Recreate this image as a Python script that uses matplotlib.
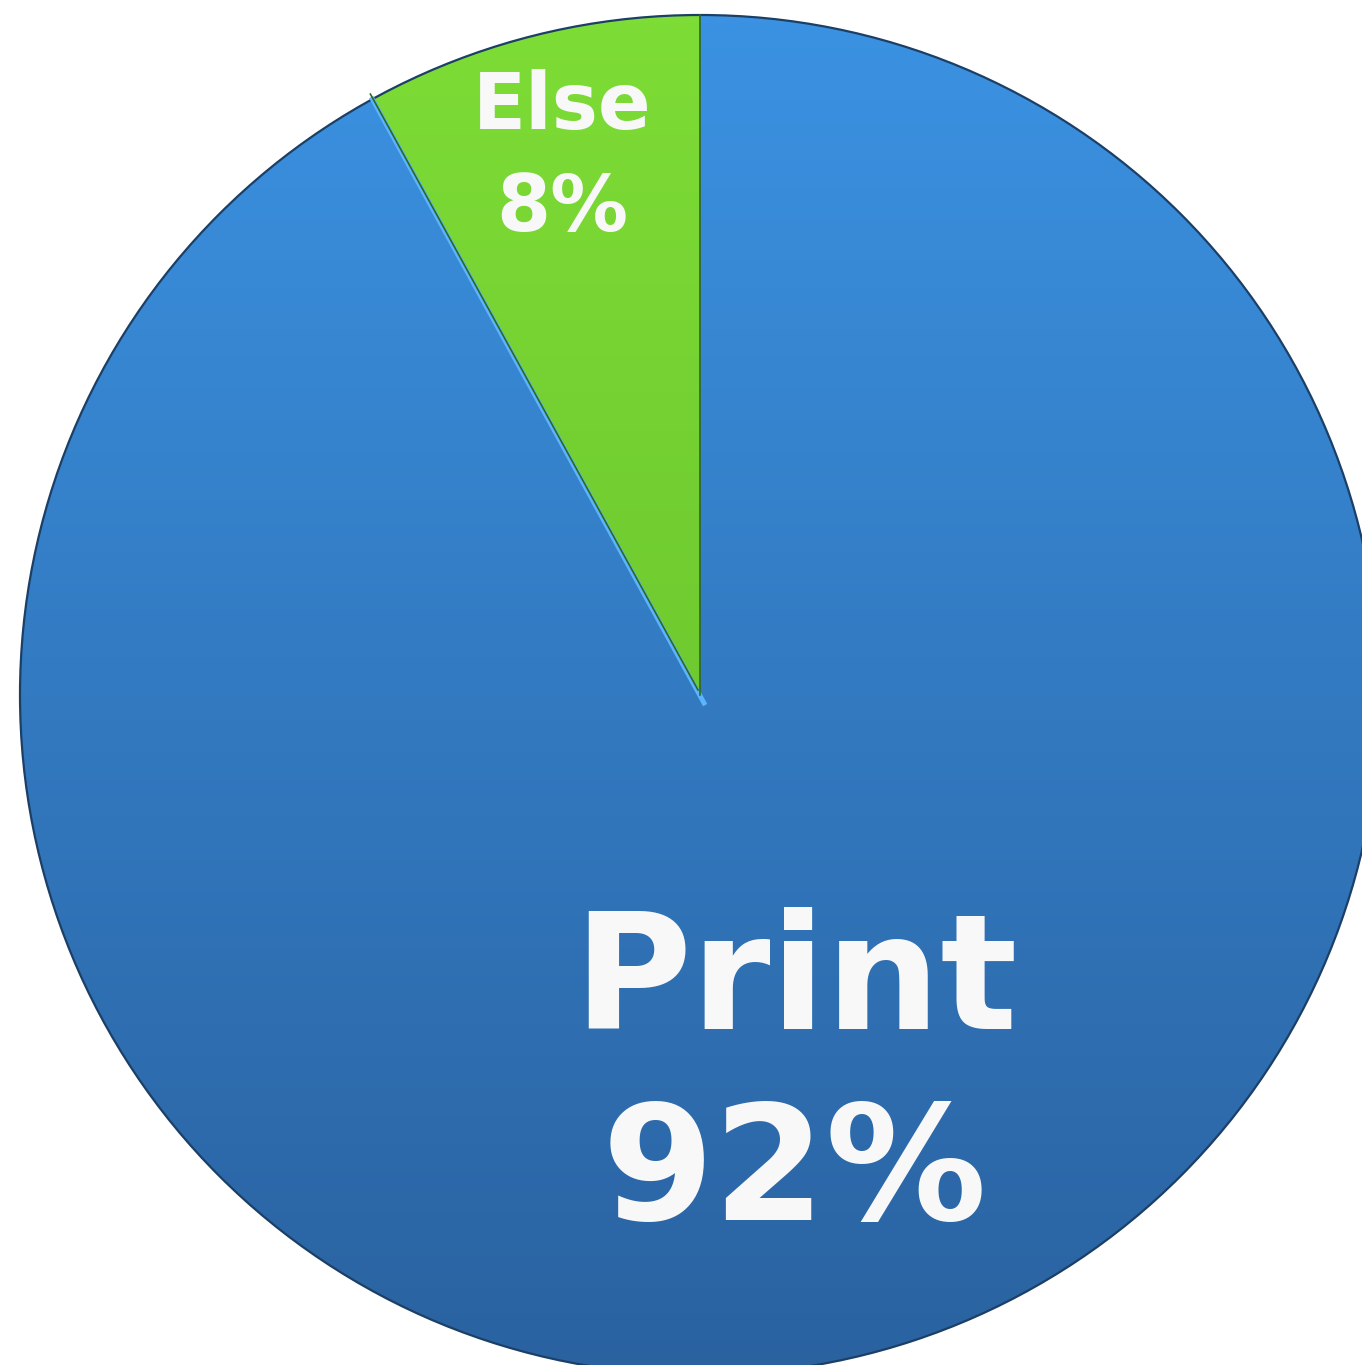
import numpy as np
import matplotlib
matplotlib.use("Agg")
import matplotlib.pyplot as plt
from matplotlib.colors import LinearSegmentedColormap

LABELS = ["Else", "Print"]
SHARES = [8, 92]
TOP_COLORS = ["#7edc36", "#3b92e2"]
BOTTOM_COLORS = ["#5fb828", "#2a62a0"]

W, H = 1362, 1365
CX, CY, R = 700, 670, 680

fig = plt.figure(figsize=(W / 100, H / 100), dpi=100)
ax = fig.add_axes([0, 0, 1, 1])

wedges, _ = ax.pie(SHARES, startangle=90, counterclock=True, center=(CX, CY),
                   radius=R, frame=True,
                   wedgeprops=dict(linewidth=0))

ax.set_xlim(0, W)
ax.set_ylim(0, H)
ax.set_aspect("equal")
ax.axis("off")

# vertical gradient fill clipped to each wedge (light on top, darker below)
grad = np.linspace(0, 1, 256).reshape(-1, 1)
ext = (CX - R, CX + R, CY - R, CY + R)
for w, top, bot in zip(wedges, TOP_COLORS, BOTTOM_COLORS):
    w.set_facecolor("none")
    cmap = LinearSegmentedColormap.from_list("g", [bot, top])
    im = ax.imshow(grad, cmap=cmap, extent=ext, origin="lower", aspect="auto",
                   zorder=1, interpolation="bicubic")
    im.set_clip_path(w)

# rim shadow and slice borders
circ = plt.Circle((CX, CY), R, fill=False, edgecolor="#1c3f66", linewidth=1.6, zorder=3)
ax.add_patch(circ)
a = np.deg2rad(90 + 360 * SHARES[0] / 100)
ax.plot([CX + 4, CX + R * np.cos(a)], [CY - 8, CY + R * np.sin(a)], color="#5ab4ff", lw=3.5, zorder=3)
ax.plot([CX - 2, CX - 2 + R * np.cos(a)], [CY + 5, CY + 5 + R * np.sin(a)], color="#2f6a1c", lw=1.2, zorder=3)
ax.plot([CX, CX], [CY, CY + R], color="#2f6a1c", lw=1.2, zorder=3)

ax.text(562, H - 158, f"{LABELS[0]}\n{SHARES[0]}%", ha="center", va="center",
        fontsize=56, fontweight="bold", color="#f8f8f8", linespacing=1.42, zorder=4)
ax.text(795, H - 1080, f"{LABELS[1]}\n{SHARES[1]}%", ha="center", va="center",
        fontsize=116, fontweight="bold", color="#f8f8f8", linespacing=1.3, zorder=4)

fig.savefig("out.png", dpi=100, facecolor="white")
